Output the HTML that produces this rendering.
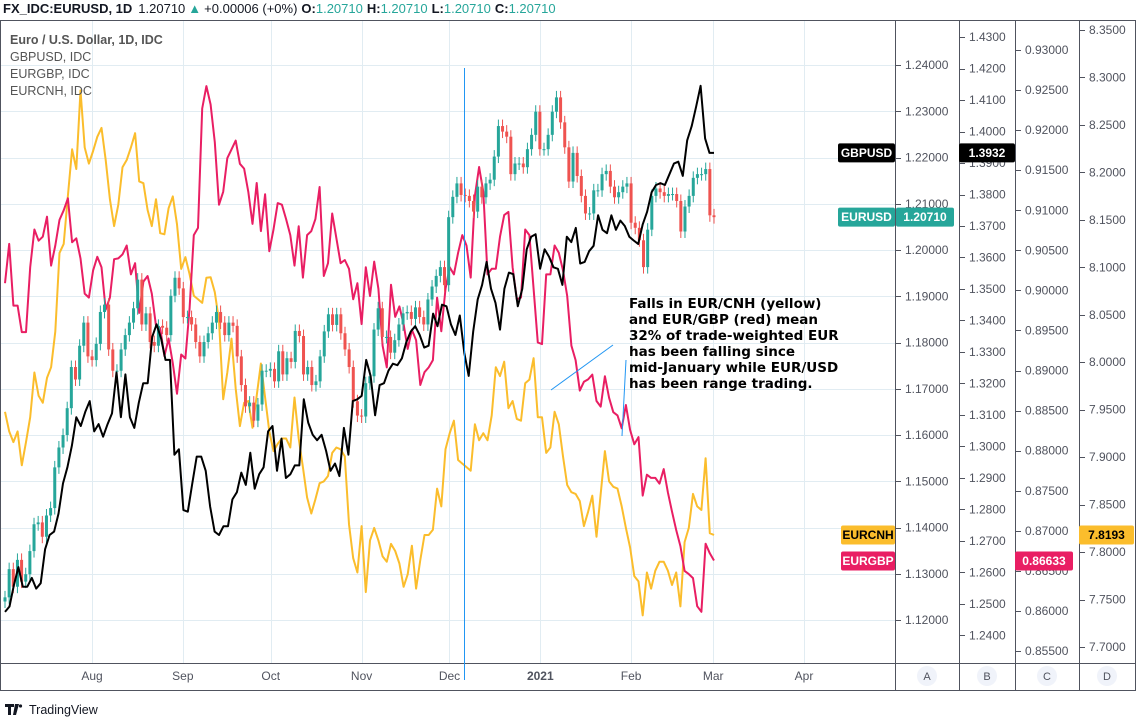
<!DOCTYPE html>
<html><head><meta charset="utf-8"><style>
body{margin:0;background:#fff;width:1140px;height:719px;overflow:hidden;font-family:"Liberation Sans",sans-serif}
svg{display:block}
</style></head><body>
<svg id="chart" width="1140" height="719" viewBox="0 0 1140 719" xmlns="http://www.w3.org/2000/svg" font-family="Liberation Sans, sans-serif">
<rect x="0" y="0" width="1140" height="719" fill="#fff"/>
<g id="grid"></g>
<g id="series"></g>
<g id="frame" stroke="#50535e" stroke-width="1" fill="none">
<rect x="0.5" y="20.5" width="1135" height="670"/>
<line x1="895.5" y1="20" x2="895.5" y2="691"/>
<line x1="959.5" y1="20" x2="959.5" y2="691"/>
<line x1="1015.5" y1="20" x2="1015.5" y2="691"/>
<line x1="1079.5" y1="20" x2="1079.5" y2="691"/>
<line x1="0" y1="663.5" x2="1136" y2="663.5"/>
</g>
<g id="axes" font-size="12" fill="#50535e"></g>
<g>
<line x1="464.5" y1="68" x2="464.5" y2="680" stroke="#2196f3" stroke-width="1"/>
<line x1="551" y1="390" x2="613" y2="345" stroke="#2196f3" stroke-width="1"/>
<line x1="622" y1="436" x2="626" y2="360" stroke="#2196f3" stroke-width="1"/>
<text x="629" y="308" font-size="13.5" font-weight="bold" fill="#000" font-family="DejaVu Sans, sans-serif">
<tspan x="629" y="308">Falls in EUR/CNH (yellow)</tspan>
<tspan x="629" y="324">and EUR/GBP (red) mean</tspan>
<tspan x="629" y="340">32% of trade-weighted EUR</tspan>
<tspan x="629" y="356">has been falling since</tspan>
<tspan x="629" y="372">mid-January while EUR/USD</tspan>
<tspan x="629" y="388">has been range trading.</tspan>
</text>
</g>
<g font-size="13">
<text x="3" y="13"><tspan font-weight="bold" fill="#131722">FX_IDC:EURUSD, 1D</tspan><tspan fill="#131722" dx="6">1.20710</tspan><tspan fill="#26a69a" dx="3">▲</tspan><tspan fill="#131722" dx="3">+0.00006 (+0%)</tspan><tspan font-weight="bold" fill="#131722" dx="4">O:</tspan><tspan fill="#26a69a">1.20710</tspan><tspan font-weight="bold" fill="#131722" dx="4">H:</tspan><tspan fill="#26a69a">1.20710</tspan><tspan font-weight="bold" fill="#131722" dx="4">L:</tspan><tspan fill="#26a69a">1.20710</tspan><tspan font-weight="bold" fill="#131722" dx="4">C:</tspan><tspan fill="#26a69a">1.20710</tspan></text>
</g>
<g font-size="12.5" fill="#555">
<text x="10" y="44" font-weight="bold">Euro / U.S. Dollar, 1D, IDC</text>
<text x="10" y="61">GBPUSD, IDC</text>
<text x="10" y="78">EURGBP, IDC</text>
<text x="10" y="95">EURCNH, IDC</text>
</g>
<g id="labels" font-size="12" font-weight="bold"></g>
<g font-size="11" fill="#50535e" text-anchor="middle">
<circle cx="927" cy="676" r="10" fill="#f0f3fa"/><text x="927" y="680">A</text>
<circle cx="987" cy="676" r="10" fill="#f0f3fa"/><text x="987" y="680">B</text>
<circle cx="1047" cy="676" r="10" fill="#f0f3fa"/><text x="1047" y="680">C</text>
<circle cx="1107" cy="676" r="10" fill="#f0f3fa"/><text x="1107" y="680">D</text>
</g>
<g>
<path d="M5 704h9v3h-3v8h-3v-8H5z M15 704h4l-3 11h-3z" fill="#131722"/>
<circle cx="20.5" cy="706" r="1.6" fill="#131722"/>
<text x="29" y="714" font-size="12.5" fill="#131722">TradingView</text>
</g>
</svg>
<script>
// EURUSD daily closes (axis A)
const eurusdClose=[1.1249,1.1310,1.1272,1.1330,1.1283,1.1299,1.1349,1.1407,1.1411,1.1380,1.1426,1.1442,1.1530,1.1573,1.1600,1.1658,1.1747,1.1720,1.1793,1.1843,1.1770,1.1762,1.1797,1.1866,1.1882,1.1785,1.1739,1.1739,1.1785,1.1816,1.1843,1.1874,1.1936,1.1839,1.1863,1.1801,1.1793,1.1836,1.1832,1.1816,1.1901,1.1940,1.1917,1.1855,1.1855,1.1839,1.1801,1.1770,1.1801,1.1820,1.1843,1.1866,1.1843,1.1816,1.1843,1.1836,1.1770,
1.1708,1.1662,1.1670,1.1631,1.1666,1.1739,1.1739,1.1743,1.1716,1.1781,1.1731,1.1766,1.1758,1.1825,1.1814,1.1731,1.1747,1.1708,1.1716,1.1770,1.1824,1.1861,1.1838,1.1861,1.1820,1.1785,1.1747,1.1673,1.1642,1.1640,1.1712,1.1727,1.1828,1.1874,1.1812,1.1812,1.1778,1.1805,1.1839,1.1863,1.1866,1.1851,1.1876,1.1855,1.1839,1.1893,1.1921,1.1944,1.1963,1.1924,1.2071,1.2115,1.2144,1.2119,1.2117,1.2106,
1.2083,1.2137,1.2114,1.2144,1.2152,1.2202,1.2268,1.2256,1.2245,1.2164,1.2187,1.2187,1.2179,1.2218,1.2249,1.2299,1.2218,1.2218,1.2249,1.2299,1.2330,1.2276,1.2222,1.2148,1.2210,1.2160,1.2117,1.2079,1.2079,1.2129,1.2129,1.2164,1.2171,1.2137,1.2114,1.2125,1.2137,1.2144,1.2059,1.2048,1.2021,1.1963,1.2044,1.2117,1.2133,1.2125,1.2117,1.2121,1.2121,1.2106,1.2040,1.2094,1.2117,1.2156,1.2164,1.2164,1.2175,1.2075,1.2071];
const eurusdFirstOpen=1.1240;
// GBPUSD (axis B)
const gbpusd=[1.2475,1.2492,1.2560,1.2617,1.2555,1.2555,1.2583,1.2549,1.2566,1.2674,1.2719,1.2730,1.2787,1.2883,1.2934,1.3003,1.3093,1.3065,1.3110,1.3144,1.3048,1.3071,1.3031,1.3071,1.3105,1.3235,1.3093,1.3229,1.3093,1.3059,1.3139,1.3201,1.3201,1.3348,1.3388,1.3343,1.3275,1.3275,1.2974,1.2991,1.2798,1.2793,1.2883,1.2968,1.2968,1.2923,
1.2810,1.2730,1.2719,1.2747,1.2747,1.2832,1.2855,1.2917,1.2878,1.2980,1.2866,1.2912,1.2934,1.3048,1.3065,1.2923,1.3025,1.2900,1.2912,1.2940,1.2940,1.3150,1.3076,1.3037,1.3020,1.3037,1.2986,1.2923,1.2946,1.2906,1.3059,1.2974,1.3144,1.3150,1.3161,1.3275,1.3224,1.3099,1.3195,1.3201,1.3241,1.3263,1.3258,1.3280,1.3331,1.3365,1.3382,1.3354,1.3314,1.3320,1.3422,1.3382,1.3450,1.3445,1.3388,1.3354,
1.3416,1.3297,1.3224,1.3365,1.3467,1.3513,1.3586,1.3501,1.3456,1.3371,1.3501,1.3552,1.3547,1.3445,1.3501,1.3626,1.3666,1.3674,1.3564,1.3626,1.3603,1.3569,1.3564,1.3513,1.3666,1.3649,1.3694,1.3581,1.3586,1.3620,1.3637,1.3734,1.3688,1.3677,1.3734,1.3688,1.3717,1.3700,1.3666,1.3654,1.3643,1.3705,1.3745,1.3807,1.3830,1.3836,1.3830,1.3864,1.3898,1.3904,1.3859,1.3972,1.4017,1.4080,1.4145,1.3978,1.3932,1.3932];
// EURGBP (axis C)
const eurgbp=[.9009,.9058,.8981,.8981,.8948,.8948,.9029,.9076,.9062,.9067,.9092,.9031,.9056,.9088,.9100,.9115,.9060,.9065,.9040,.8996,.8991,.9025,.9042,.9029,.8976,.8991,.9039,.9040,.9045,.9056,.9020,.9034,.8972,.9011,.9018,.8996,.8956,.8953,.8918,.8940,.8909,.8871,.8920,.8915,.8978,.9069,.9078,.9227,.9255,.9232,.9185,.9107,.9123,.9165,
.9176,.9187,.9158,.9152,.9123,.9083,.9134,.9074,.9120,.9049,.9076,.9109,.9107,.9089,.9069,.9031,.9080,.9016,.9069,.9074,.9089,.9129,.9018,.9034,.9096,.9065,.9034,.9038,.9027,.8989,.9009,.8958,.9029,.8993,.9036,.9002,.8931,.8904,.9007,.8967,.8980,.8958,.8927,.8951,.8938,.8882,.8898,.8904,.8913,.8991,.8949,.9002,.9029,.9020,.9047,.9069,.9056,
.9016,.9118,.9154,.9123,.9020,.9027,.9027,.9067,.9094,.9098,.9029,.8989,.8991,.9076,.9069,.9002,.8935,.8933,.9020,.9020,.9056,.9047,.9025,.8993,.8931,.8913,.8875,.8886,.8889,.8895,.8862,.8855,.8893,.8866,.8848,.8844,.8828,.8857,.8826,.8808,.8817,.8744,.8770,.8766,.8766,.8759,.8777,.8748,.8724,.8701,.8681,.8650,.8646,.8641,.8606,.8599,.8684,.8672,.8663];
// EURCNH (axis D)
const eurcnh=[7.9478,7.9271,7.9158,7.9271,7.8914,7.9158,7.9421,7.9892,7.9647,7.9572,7.9835,7.9948,8.0324,8.1152,8.1246,8.1754,8.2243,8.2036,8.2864,8.2262,8.2093,8.2225,8.2375,8.2469,8.2130,8.1717,8.1434,8.1660,8.2055,8.2130,8.2262,8.2413,8.1905,8.1886,8.1604,8.1434,8.1717,8.1359,8.1348,8.1623,8.1747,8.1453,8.0983,8.1107,8.0926,8.0701,8.0663,8.0625,8.0889,8.0896,8.0738,8.0437,7.9610,7.9892,8.0249,
7.9722,7.9327,7.9572,7.9591,7.9309,7.9647,7.9986,7.9628,7.9271,7.9064,7.9139,7.9196,7.9196,7.9102,7.9628,7.9196,7.8895,7.8575,7.8406,7.8556,7.8725,7.8744,7.8801,7.9045,7.9102,7.9083,7.9008,7.8293,7.7935,7.7785,7.8274,7.7578,7.8123,7.8255,7.8123,7.7954,7.7898,7.8086,7.8011,7.7879,7.7634,7.7766,7.8067,7.7615,7.7916,7.8180,7.8180,7.8236,7.8669,7.8481,7.9083,7.9252,7.9384,7.8970,7.8932,7.8895,
7.8857,7.9346,7.9177,7.9252,7.9177,7.9440,7.9948,7.9854,8.0005,7.9516,7.9591,7.9403,7.9384,7.9779,7.9817,8.0042,7.9421,7.9421,7.9045,7.9102,7.9478,7.9346,7.9008,7.8707,7.8631,7.8613,7.8537,7.8274,7.8424,7.8594,7.8161,7.8613,7.9064,7.8744,7.8688,7.8669,7.8481,7.8255,7.8048,7.7747,7.7691,7.7333,7.7785,7.7615,7.7804,7.7898,7.7898,7.7804,7.7653,7.7785,7.7427,7.8105,7.8255,7.8613,7.8481,7.8443,7.8989,7.8199,7.8180];
// tick labels
const ticksA=["1.24000","1.23000","1.22000","1.21000","1.20000","1.19000","1.18000","1.17000","1.16000","1.15000","1.14000","1.13000","1.12000"];
const ticksB=["1.4300","1.4200","1.4100","1.4000","1.3900","1.3800","1.3700","1.3600","1.3500","1.3400","1.3300","1.3200","1.3100","1.3000","1.2900","1.2800","1.2700","1.2600","1.2500","1.2400"];
const ticksC=["0.93000","0.92500","0.92000","0.91500","0.91000","0.90500","0.90000","0.89500","0.89000","0.88500","0.88000","0.87500","0.87000","0.86500","0.86000","0.85500"];
const ticksD=["8.3500","8.3000","8.2500","8.2000","8.1500","8.1000","8.0500","8.0000","7.9500","7.9000","7.8500","7.8000","7.7500","7.7000"];
const monthLabels=["Aug","Sep","Oct","Nov","Dec","2021","Feb","Mar","Apr"];
const monthDays=[31,62,92,123,153,184,215,243,274]; // days since 2020-07-01

const NS="http://www.w3.org/2000/svg";
const yA=v=>65+(1.24-v)*4625;
const yB=v=>37+(1.43-v)*3150;
const yC=v=>50+(0.93-v)*8014;
const yD=v=>30+(8.35-v)*949.2;
const xDay=d=>1.2+d*2.93;
const X0=5,X1=714;
const xIdx=(i,n)=>X0+(X1-X0)*i/(n-1);
function mk(tag,attrs,parent){const e=document.createElementNS(NS,tag);for(const k in attrs)e.setAttribute(k,attrs[k]);parent.appendChild(e);return e;}
const grid=document.getElementById('grid'),series=document.getElementById('series'),axes=document.getElementById('axes'),labels=document.getElementById('labels');

ticksA.forEach(t=>{const y=Math.round(yA(parseFloat(t)))+0.5;const l=mk('line',{x1:1,x2:895,y1:y,y2:y,stroke:'#e1ecf2','stroke-width':1},grid);

});
monthDays.forEach(d=>{const x=Math.round(xDay(d))+0.5;if(x>895)return;const l=mk('line',{x1:x,x2:x,y1:21,y2:663,stroke:'#e1ecf2','stroke-width':1},grid);

});

function axis(ticks,fn,x0,tx,name){ticks.forEach(t=>{const y=fn(parseFloat(t));if(y<24||y>660)return;
mk('line',{x1:x0,x2:x0+5,y1:Math.round(y)+0.5,y2:Math.round(y)+0.5,stroke:'#50535e'},axes);
const tt=mk('text',{x:tx,y:y+4},axes);tt.textContent=t;

});}
axis(ticksA,yA,896,905,'axis-a');
axis(ticksB,yB,960,969,'axis-b');
axis(ticksC,yC,1016,1025,'axis-c');
axis(ticksD,yD,1080,1089,'axis-d');
monthLabels.forEach((m,i)=>{const x=xDay(monthDays[i]);if(x>880)return;const t=mk('text',{x:x,y:680,'text-anchor':'middle','font-weight':m==='2021'?'bold':'normal'},axes);t.textContent=m;

});

function line(vals,fn,color,name){const n=vals.length;const pts=vals.map((v,i)=>xIdx(i,n).toFixed(1)+','+fn(v).toFixed(1)).join(' ');
const p=mk('polyline',{points:pts,fill:'none',stroke:color,'stroke-width':2,'stroke-linejoin':'round'},series);

}
line(eurcnh,yD,'#fbbd2c','eurcnh-line');
line(eurgbp,yC,'#e91e63','eurgbp-line');

const nC=eurusdClose.length;
eurusdClose.forEach((c,i)=>{const o=i?eurusdClose[i-1]:eurusdFirstOpen;const up=c>=o;const col=up?'#26a69a':'#ef5350';
const x=xIdx(i,nC);const hi=Math.max(o,c)+0.0014,lo=Math.min(o,c)-0.0014;
const g=mk('g',{},series);


mk('line',{x1:x,x2:x,y1:yA(hi),y2:yA(lo),stroke:col,'stroke-width':1},g);
const top=yA(Math.max(o,c)),bot=yA(Math.min(o,c));
mk('rect',{x:x-1.5,y:top,width:3,height:Math.max(1,bot-top),fill:col},g);});
line(gbpusd,yB,'#000','gbpusd-line');

function pill(x,y,w,text,bg,fg,name){const g=mk('g',{},labels);


mk('rect',{x:x,y:y-9.5,width:w,height:19,rx:2,fill:bg},g);const t=mk('text',{x:x+w/2,y:y+4,'text-anchor':'middle',fill:fg},g);t.textContent=text;}
const lastG=gbpusd[gbpusd.length-1],lastU=eurusdClose[nC-1],lastE=eurgbp[eurgbp.length-1],lastC=eurcnh[eurcnh.length-1];
pill(838,yB(lastG),57,'GBPUSD','#000','#fff','gbpusd-tag');
pill(959,yB(lastG),56,lastG.toFixed(4),'#000','#fff','gbpusd-price-label');
pill(838,yA(lastU),57,'EURUSD','#26a69a','#fff','eurusd-tag');
pill(896,yA(lastU),58,lastU.toFixed(5),'#26a69a','#fff','eurusd-price-label');
pill(841,yD(lastC),54,'EURCNH','#fbbd2c','#000','eurcnh-tag');
pill(1079,yD(lastC),55,'7.8193','#fbbd2c','#000','eurcnh-price-label');
pill(841,yC(lastE)+0.5,54,'EURGBP','#e91e63','#fff','eurgbp-tag');
pill(1015,yC(lastE)+0.5,58,'0.86633','#e91e63','#fff','eurgbp-price-label');
</script>
</body></html>
